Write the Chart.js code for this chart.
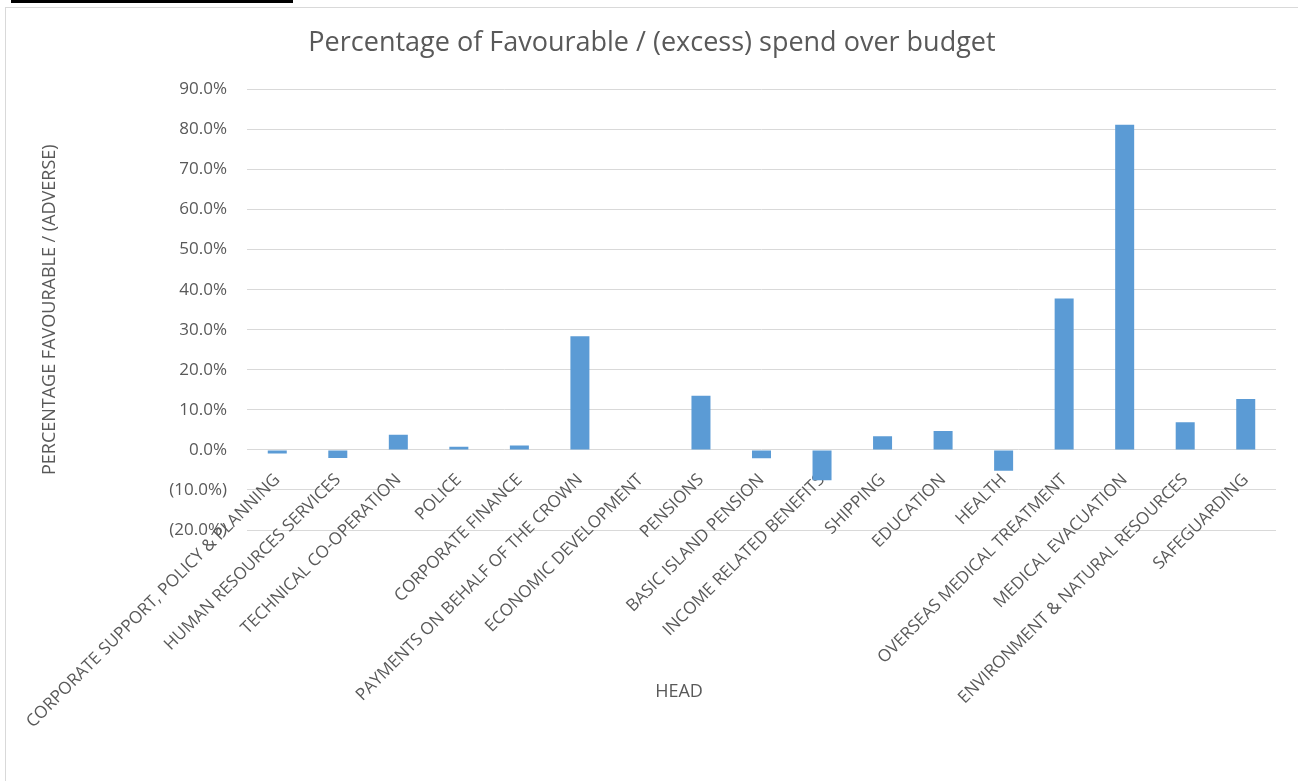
<!DOCTYPE html>
<html><head><meta charset="utf-8">
<script src="https://cdn.jsdelivr.net/npm/chart.js@4.4.1/dist/chart.umd.min.js"></script>
<style>
html,body{margin:0;padding:0;background:#fff;overflow:hidden}
#wrap{position:relative;width:1298px;height:781px;overflow:hidden}
#frame{position:absolute;left:5px;top:7px;width:1400px;height:900px;border:1px solid #d9d9d9;box-sizing:border-box}
#topbar{position:absolute;left:11px;top:0;width:282px;height:3px;background:#000}
#c{position:absolute;left:0;top:0}
#xtitle{position:absolute;left:0;top:677px;width:1358px;text-align:center;font-family:"Open Sans",sans-serif;font-size:18px;color:#595959;line-height:26px}
</style></head><body>
<div id="wrap">
<div id="frame"></div>
<div id="topbar"></div>
<canvas id="c" width="1298" height="781"></canvas>
<div id="xtitle">HEAD</div>
</div>
<script>
const chartTitle = 'Percentage of Favourable / (excess) spend over budget';
const yAxisTitle = 'PERCENTAGE FAVOURABLE / (ADVERSE)';
const categories = [
  'CORPORATE SUPPORT, POLICY & PLANNING',
  'HUMAN RESOURCES SERVICES',
  'TECHNICAL CO-OPERATION',
  'POLICE',
  'CORPORATE FINANCE',
  'PAYMENTS ON BEHALF OF THE CROWN',
  'ECONOMIC DEVELOPMENT',
  'PENSIONS',
  'BASIC ISLAND PENSION',
  'INCOME RELATED BENEFITS',
  'SHIPPING',
  'EDUCATION',
  'HEALTH',
  'OVERSEAS MEDICAL TREATMENT',
  'MEDICAL EVACUATION',
  'ENVIRONMENT & NATURAL RESOURCES',
  'SAFEGUARDING'
];
const favourablePct = [
  -0.009, -0.020, 0.038, 0.008, 0.011, 0.284, 0.000, 0.135, -0.021,
  -0.076, 0.034, 0.047, -0.052, 0.378, 0.812, 0.069, 0.127
];
const yMin = -0.2;
const yMax = 0.9;
const yStep = 0.1;

function fmtPct(v) {
  const p = Math.round(v * 1000) / 10;
  if (p < 0) return '(' + Math.abs(p).toFixed(1) + '%)';
  return p.toFixed(1) + '%';
}

const textColor = '#595959';
const fontFam = '"Open Sans", sans-serif';

new Chart(document.getElementById('c'), {
  type: 'bar',
  data: {
    labels: categories,
    datasets: [{
      data: favourablePct,
      backgroundColor: '#5B9BD5',
      borderWidth: 0,
      categoryPercentage: 1.0,
      barPercentage: 0.314
    }]
  },
  options: {
    responsive: false,
    animation: false,
    devicePixelRatio: 1,
    layout: { padding: { left: 28, right: 22, top: 0, bottom: 251 } },
    plugins: {
      legend: { display: false },
      tooltip: { enabled: false },
      title: {
        display: true,
        text: chartTitle,
        color: textColor,
        font: { family: fontFam, size: 27, weight: 'normal' },
        padding: { top: 27, bottom: 30 }
      }
    },
    scales: {
      x: {
        position: { y: 0 },
        grid: { display: false, drawTicks: false },
        border: { display: false },
        ticks: {
          autoSkip: false,
          minRotation: 45,
          maxRotation: 45,
          padding: 20,
          color: textColor,
          font: { family: fontFam, size: 17 }
        },
        afterFit: (s) => { s.paddingLeft = 0; s.paddingRight = 0; }
      },
      y: {
        min: yMin,
        max: yMax,
        grid: { color: '#d9d9d9', lineWidth: 1, drawTicks: false },
        border: { display: false },
        ticks: {
          stepSize: yStep,
          padding: 20,
          color: textColor,
          font: { family: fontFam, size: 17 },
          callback: (v) => fmtPct(v)
        },
        title: {
          display: true,
          text: yAxisTitle,
          color: textColor,
          font: { family: fontFam, size: 18 },
          padding: { top: 11, bottom: 0 }
        },
        afterFit: (s) => { s.width = 219; }
      }
    }
  }
});
</script>
</body></html>
